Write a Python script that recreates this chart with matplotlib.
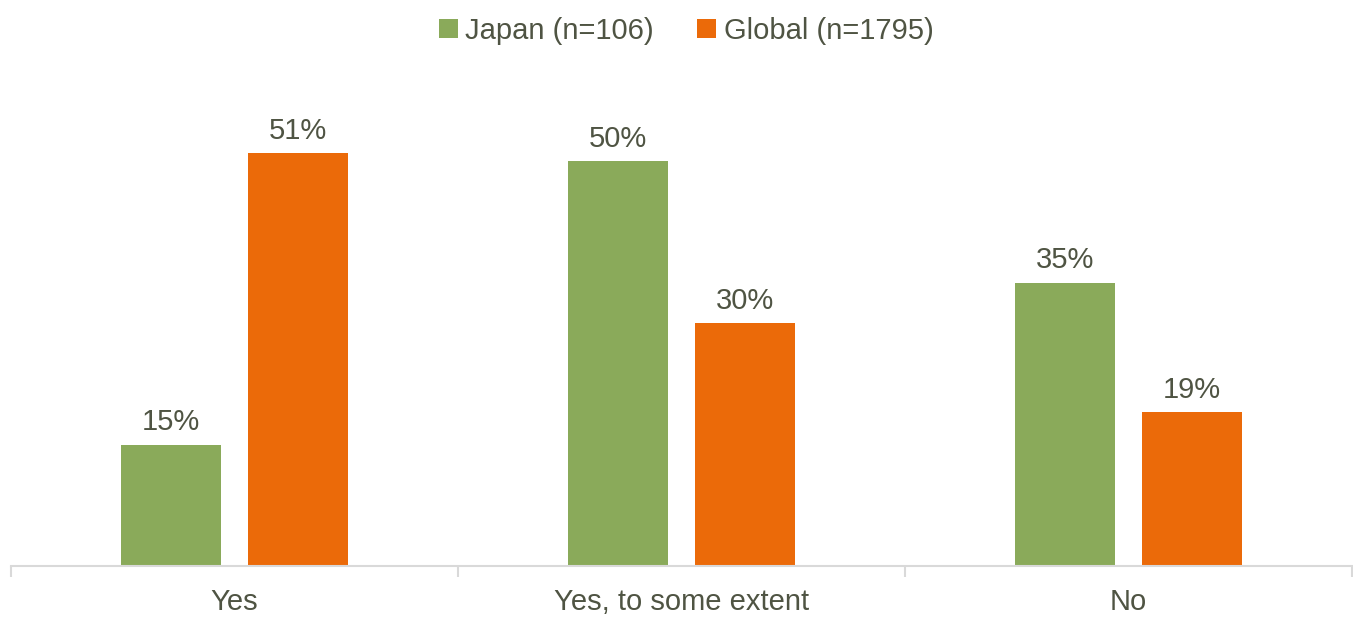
import matplotlib.pyplot as plt
import numpy as np

plt.rcParams['font.family'] = ['Liberation Sans', 'DejaVu Sans']

categories = ["Yes", "Yes, to some extent", "No"]
japan = [15, 50, 35]
global_ = [51, 30, 19]
series_names = ["Japan (n=106)", "Global (n=1795)"]

GREEN = "#8AAA5A"
ORANGE = "#EB6A09"
TEXT = "#4F5443"
AXIS = "#D9D9D9"
FS = 21

fig = plt.figure(figsize=(13.53, 6.17), dpi=100)
ax = fig.add_axes([11 / 1353, 51 / 617, 1341 / 1353, 486 / 617])

x = np.arange(len(categories))
w = 0.224
off = 0.142
b1 = ax.bar(x - off, japan, w, color=GREEN, label=series_names[0])
b2 = ax.bar(x + off, global_, w, color=ORANGE, label=series_names[1])

for bars, vals in ((b1, japan), (b2, global_)):
    for rect, v in zip(bars, vals):
        ax.annotate(f"{v}%", (rect.get_x() + rect.get_width() / 2, v),
                    xytext=(0, 6), textcoords="offset points",
                    ha="center", va="bottom", fontsize=FS, color=TEXT)

ax.set_xlim(-0.5, 2.5)
ax.set_ylim(0, 60)
ax.set_yticks([])
for s in ("top", "right", "left"):
    ax.spines[s].set_visible(False)
ax.spines["bottom"].set_color(AXIS)
ax.spines["bottom"].set_linewidth(1.5)

ax.set_xticks(x)
ax.set_xticklabels(categories, fontsize=FS, color=TEXT)
ax.tick_params(axis="x", which="major", length=0, pad=16)
ax.set_xticks([-0.5, 0.5, 1.5, 2.5], minor=True)
ax.tick_params(axis="x", which="minor", length=8, width=1.5, color=AXIS)

fig.legend(loc="upper center", bbox_to_anchor=(0.507, 1.015), ncol=2,
           frameon=False, fontsize=FS, labelcolor=TEXT,
           handlelength=0.65, handleheight=0.65, handletextpad=0.25,
           columnspacing=1.5)

fig.savefig("out.png", dpi=100)
